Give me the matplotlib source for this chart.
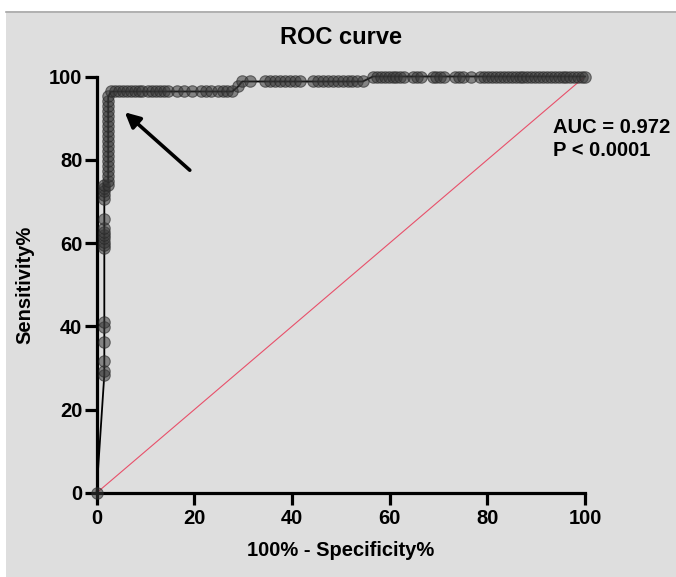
import matplotlib
matplotlib.use("Agg")
import matplotlib.pyplot as plt
from matplotlib.patches import Rectangle
from matplotlib.lines import Line2D

# ---- data ----
fpr = [0.0,
       1.6, 1.6, 1.6, 1.6, 1.6, 1.6, 1.6, 1.6, 1.6, 1.6, 1.6, 1.6, 1.6, 1.6, 1.6, 1.6, 1.6, 1.6, 1.6,
       2.4, 2.4, 2.4, 2.4, 2.4, 2.4, 2.4, 2.4, 2.4, 2.4, 2.4, 2.4, 2.4, 2.4, 2.4, 2.4, 2.4, 2.4, 2.4,
       3.0, 3.8, 4.6, 5.4, 6.2, 7.0, 7.8, 8.6, 9.4, 10.6, 11.4, 12.2, 13.0, 13.8, 14.6, 16.4, 18.0, 19.6,
       21.4, 22.4, 23.5, 24.8, 25.8, 26.8, 27.8,
       29.0, 29.8,
       31.4, 34.5, 35.5, 36.5, 37.6, 38.6, 39.6, 40.6, 41.6, 44.3, 45.3, 46.3, 47.4, 48.4, 49.4,
       50.4, 51.4, 52.4, 53.4, 54.5,
       56.6, 57.4, 58.2, 59.0, 59.8, 60.6, 61.4, 62.2, 63.0, 64.8, 65.6, 66.4, 68.8, 69.6, 70.4, 71.2,
       73.4, 74.2, 75.0, 76.6, 78.6, 79.4, 80.2, 81.0, 81.8, 82.6, 83.4, 84.2, 85.0, 85.8, 86.6,
       87.4, 88.2, 89.0, 89.8, 90.6, 91.4, 92.2, 93.0, 93.8, 94.6, 95.4, 96.2, 97.0, 97.8, 98.6, 99.4, 100.0]
tpr = [0.0,
       28.4, 29.3, 31.7, 36.3, 39.9, 41.1, 58.9, 59.6, 60.3, 61.3, 62.0, 62.7, 63.7, 65.9, 70.7, 71.6, 72.4, 73.3, 74.0,
       74.0, 75.0, 76.2, 77.4, 78.6, 79.8, 81.0, 82.1, 83.3, 84.5, 85.7, 86.9, 88.1, 89.3, 90.5, 91.7, 92.9, 94.0, 95.2,
       96.4, 96.4, 96.4, 96.4, 96.4, 96.4, 96.4, 96.4, 96.4, 96.4, 96.4, 96.4, 96.4, 96.4, 96.4, 96.4, 96.4, 96.4,
       96.4, 96.4, 96.4, 96.4, 96.4, 96.4, 96.4,
       97.6, 98.8,
       98.8, 98.8, 98.8, 98.8, 98.8, 98.8, 98.8, 98.8, 98.8, 98.8, 98.8, 98.8, 98.8, 98.8, 98.8,
       98.8, 98.8, 98.8, 98.8, 98.8,
       100.0, 100.0, 100.0, 100.0, 100.0, 100.0, 100.0, 100.0, 100.0, 100.0, 100.0, 100.0, 100.0, 100.0, 100.0, 100.0,
       100.0, 100.0, 100.0, 100.0, 100.0, 100.0, 100.0, 100.0, 100.0, 100.0, 100.0, 100.0, 100.0, 100.0, 100.0,
       100.0, 100.0, 100.0, 100.0, 100.0, 100.0, 100.0, 100.0, 100.0, 100.0, 100.0, 100.0, 100.0, 100.0, 100.0, 100.0, 100.0]
ticks = [0, 20, 40, 60, 80, 100]
title = "ROC curve"
xlabel = "100% - Specificity%"
ylabel = "Sensitivity%"
auc_text = "AUC = 0.972"
p_text = "P < 0.0001"
arrow_tail = (19.1, 77.5)
arrow_head = (5.8, 91.4)

plt.rcParams['font.family'] = ['Liberation Sans', 'DejaVu Sans']
plt.rcParams['font.weight'] = 'bold'

W, H = 676, 577
fig = plt.figure(figsize=(W / 100, H / 100), dpi=100)
fig.patch.set_facecolor('white')
bg = '#dedede'
fig.patches.append(Rectangle((6 / W, 0), 1 - 6 / W, 1 - 11 / H, transform=fig.transFigure,
                             facecolor=bg, edgecolor='none', zorder=-10))
fig.lines.append(Line2D([6 / W, 1], [1 - 11.5 / H, 1 - 11.5 / H], transform=fig.transFigure,
                        color='#a8a8a8', lw=1.2))

ax = fig.add_axes([96.5 / W, (H - 493) / H, (585 - 96.5) / W, (493 - 76.5) / H])
ax.set_facecolor('none')

# diagonal reference line
ax.plot([0, 100], [0, 100], color='#e8506a', lw=0.8, zorder=2)
# ROC curve
ax.plot(fpr, tpr, color='black', lw=1.3, zorder=3, clip_on=False)
ax.scatter(fpr, tpr, s=68, facecolor=(0.22, 0.22, 0.22, 0.55), edgecolor=(0.15, 0.15, 0.15, 0.6),
           linewidths=0.8, zorder=4, clip_on=False)

ax.set_xlim(0, 100)
ax.set_ylim(0, 100)
ax.set_xticks(ticks)
ax.set_yticks(ticks)
for s in ['top', 'right']:
    ax.spines[s].set_visible(False)
for s in ['left', 'bottom']:
    ax.spines[s].set_linewidth(2.3)
ax.tick_params(axis='both', direction='out', length=8.6, width=2.3, labelsize=14.5)
ax.tick_params(axis='x', pad=3)
ax.tick_params(axis='y', pad=1.5)
for lab in ax.get_xticklabels() + ax.get_yticklabels():
    lab.set_fontweight('bold')

ax.annotate('', xy=arrow_head, xytext=arrow_tail,
            arrowprops=dict(arrowstyle='-|>,head_length=0.9,head_width=0.45', color='black', lw=2.6,
                            shrinkA=0, shrinkB=0), zorder=5)

ax.text(93.4, 87.8, auc_text, fontsize=14.5, fontweight='bold', va='center', ha='left', clip_on=False)
ax.text(93.4, 82.3, p_text, fontsize=14.5, fontweight='bold', va='center', ha='left', clip_on=False)

fig.text(340.75 / W, 1 - 38 / H, title, fontsize=17, fontweight='bold', ha='center', va='center')
fig.text(340.75 / W, 1 - 551 / H, xlabel, fontsize=14.5, fontweight='bold', ha='center', va='center')
fig.text(25 / W, 1 - 285 / H, ylabel, fontsize=14.5, fontweight='bold', ha='center', va='center',
         rotation=90)

fig.savefig('out.png', dpi=100, facecolor=fig.get_facecolor())
